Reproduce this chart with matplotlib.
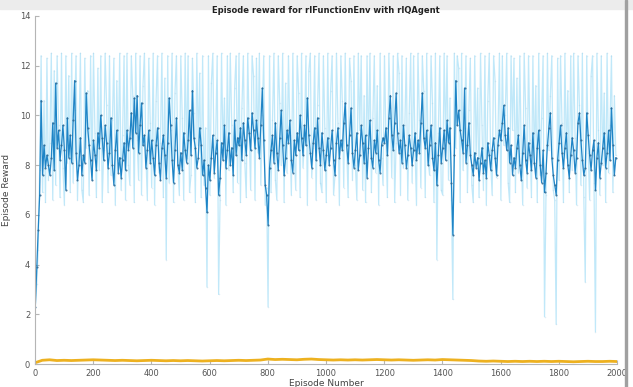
import numpy as np
import matplotlib.pyplot as plt
from matplotlib.patches import Rectangle

# episode reward (every 5th episode)
episode_reward = [
    2.3, 3.2, 4.6, 7.8, 12.4, 6.9, 10.6, 6.5, 12.3, 7.4, 8.9, 12.5, 6.6, 11.8, 7.2, 12.4, 9.6, 6.7, 12.5, 7.9,
    6.4, 12.4, 8.1, 11.6, 6.9, 12.5, 7.3, 10.2, 12.4, 6.6, 9.1, 12.5, 7.0, 6.5, 12.3, 8.7, 11.0, 6.8, 12.4, 7.5,
    12.5, 9.3, 6.7, 11.9, 7.8, 12.4, 6.5, 8.6, 12.5, 10.4, 6.9, 12.4, 7.6, 9.8, 12.3, 6.4, 11.4, 8.2, 12.5, 7.0,
    9.2, 12.4, 6.6, 12.5, 8.0, 7.2, 12.4, 10.8, 6.5, 12.5, 9.0, 7.4, 12.4, 6.8, 11.2, 12.5, 8.4, 6.6, 12.3, 9.7,
    7.1, 12.5, 6.4, 10.6, 12.4, 7.7, 8.9, 12.5, 6.7, 11.5, 4.2, 12.4, 7.3, 9.4, 12.5, 6.5, 10.9, 12.4, 7.9, 6.8,
    12.4, 9.9, 6.6, 12.5, 8.3, 12.4, 6.9, 7.6, 12.3, 10.1, 6.5, 12.5, 8.8, 11.7, 6.7, 12.4, 7.2, 9.5, 3.1, 12.4,
    6.8, 11.3, 12.5, 7.5, 9.1, 12.4, 2.8, 6.6, 12.5, 8.6, 10.7, 6.4, 12.4, 7.8, 12.5, 9.6, 6.9, 11.1, 12.4, 7.3,
    12.5, 6.5, 10.3, 12.4, 8.1, 6.7, 12.5, 9.3, 7.0, 12.4, 11.6, 6.6, 12.3, 8.5, 12.5, 7.2, 10.0, 12.4, 6.4, 7.1,
    2.3, 12.4, 6.9, 9.8, 12.5, 7.4, 6.6, 12.4, 10.5, 8.0, 12.5, 6.5, 11.3, 7.7, 12.4, 9.2, 6.8, 12.5, 8.4, 7.0,
    12.4, 10.9, 6.7, 12.5, 7.9, 9.0, 12.4, 6.4, 11.8, 12.5, 7.5, 8.7, 12.4, 6.6, 10.4, 12.5, 7.3, 6.9, 12.4, 9.5,
    6.5, 12.5, 8.2, 11.0, 12.4, 6.8, 7.6, 12.5, 9.7, 6.4, 12.4, 10.6, 7.1, 12.5, 8.8, 6.7, 12.3, 11.4, 7.4, 12.4,
    8.0, 6.6, 12.5, 9.4, 12.4, 7.0, 10.8, 6.5, 12.4, 8.5, 12.5, 6.9, 9.9, 12.4, 7.7, 11.2, 6.4, 12.5, 8.3, 7.2,
    12.4, 9.1, 6.7, 12.5, 10.3, 7.5, 12.4, 6.5, 8.9, 12.5, 11.7, 6.8, 12.4, 7.9, 9.6, 12.3, 6.6, 10.1, 12.5, 7.3,
    12.4, 8.6, 6.4, 12.5, 9.8, 7.1, 12.4, 11.0, 6.7, 12.5, 8.2, 7.6, 12.4, 10.5, 6.5, 12.5, 4.2, 9.3, 12.4, 7.0,
    6.8, 12.5, 9.0, 12.4, 7.4, 10.7, 6.6, 2.6, 12.5, 8.7, 12.4, 11.9, 6.5, 12.5, 7.8, 9.5, 12.4, 6.9, 10.2, 12.3,
    7.2, 6.5, 12.4, 8.4, 11.1, 6.7, 12.5, 9.6, 7.0, 12.4, 6.4, 10.6, 12.5, 8.1, 6.8, 12.4, 11.4, 7.5, 9.2, 12.5,
    6.6, 12.4, 8.8, 10.0, 12.5, 7.3, 6.5, 12.4, 9.4, 12.3, 6.9, 11.5, 7.7, 12.4, 8.5, 6.4, 12.5, 10.3, 7.1, 12.4,
    9.0, 6.7, 12.4, 8.0, 11.2, 6.5, 12.5, 7.6, 9.9, 12.4, 1.9, 6.8, 12.5, 8.6, 10.8, 12.4, 7.0, 6.6, 1.6, 12.3,
    7.4, 12.4, 9.7, 6.5, 12.5, 8.3, 11.0, 6.9, 12.4, 7.8, 12.5, 9.1, 6.4, 12.4, 10.4, 7.2, 12.5, 6.7, 3.3, 12.4,
    8.5, 6.6, 11.6, 12.4, 7.3, 1.3, 12.5, 9.4, 6.8, 12.4, 8.0, 10.9, 6.5, 12.5, 7.7, 9.6, 12.4, 6.9, 10.8, 8.4,
]

average_reward = [
    2.3, 3.9, 5.4, 6.8, 10.6, 7.6, 8.8, 7.9, 8.4, 8.0, 7.6, 8.3, 9.7, 7.8, 11.3, 8.7, 9.4, 8.2, 8.8, 9.6,
    8.6, 7.0, 9.9, 8.3, 9.2, 8.1, 9.8, 11.4, 8.5, 7.4, 8.0, 9.1, 7.6, 8.4, 8.1, 10.9, 9.5, 8.8, 8.2, 7.4,
    9.0, 8.4, 7.8, 9.3, 8.7, 10.0, 9.1, 8.2, 9.6, 8.9, 7.9, 8.5, 9.9, 8.0, 7.2, 8.6, 9.4, 7.7, 8.3, 7.5,
    8.2, 8.9, 7.8, 9.4, 8.6, 9.1, 10.1, 8.7, 10.7, 9.3, 10.8, 8.5, 9.6, 10.5, 8.8, 9.2, 7.9, 8.6, 9.4, 8.1,
    9.0, 8.3, 7.6, 8.8, 9.5, 8.1, 7.4, 8.7, 9.2, 8.4, 7.5, 8.9, 10.7, 9.6, 8.2, 7.3, 8.6, 9.9, 8.0, 7.7,
    8.5, 7.8, 9.3, 8.6, 8.1, 9.0, 10.2, 8.4, 11.0, 9.1, 8.7, 7.9, 8.3, 9.5, 8.8, 7.6, 8.2, 7.1, 6.1, 8.0,
    7.4, 8.3, 9.2, 7.7, 8.5, 9.0, 6.8, 7.5, 8.9, 8.2, 9.6, 7.9, 8.6, 9.3, 8.0, 8.7, 7.6, 9.8, 8.4, 9.1,
    8.8, 9.5, 8.2, 9.7, 9.0, 8.4, 9.9, 9.3, 8.6, 10.1, 9.4, 8.7, 9.8, 9.1, 8.3, 9.6, 11.1, 9.0, 7.2, 6.8,
    5.6, 7.9, 8.6, 9.2, 8.1, 9.7, 8.5, 7.8, 9.1, 10.2, 8.8, 7.6, 8.3, 9.4, 8.9, 9.8, 8.2, 7.7, 9.0, 8.4,
    9.3, 8.6, 10.0, 9.1, 8.4, 9.6, 8.8, 10.7, 9.2, 8.5, 7.9, 8.9, 9.5, 8.2, 9.9, 8.7, 8.0, 9.3, 8.6, 7.8,
    8.4, 9.1, 8.0, 8.7, 9.4, 8.2, 7.6, 8.9, 9.5, 8.3, 9.0, 8.6, 9.7, 10.5, 8.8, 8.1, 9.2, 10.3, 8.5, 7.9,
    8.6, 9.3, 7.8, 8.4, 9.6, 8.9, 8.1, 9.2, 7.5, 8.7, 9.8, 8.3, 7.9, 9.0, 8.5, 9.4, 8.2, 7.7, 8.8, 9.1,
    8.9, 9.5, 8.4, 9.9, 10.8, 9.2, 8.6, 9.7, 10.9, 9.3, 8.5, 9.0, 8.1, 9.6, 8.8, 7.9, 8.4, 9.2, 8.7, 8.0,
    8.6, 9.3, 8.2, 9.0, 8.5, 9.7, 10.9, 9.1, 8.7, 9.4, 8.0, 8.8, 9.6, 8.3, 7.8, 8.9, 7.2, 8.4, 9.5, 8.1,
    8.7, 9.4, 8.2, 9.8, 8.9, 9.5, 7.3, 5.2, 8.4, 11.4, 9.6, 10.2, 9.4, 9.0, 8.5, 11.1, 8.1, 8.8, 9.7, 8.4,
    8.0, 7.6, 8.5, 7.9, 8.3, 7.4, 8.1, 8.7, 7.7, 8.2, 7.5, 8.9, 8.4, 7.8, 8.6, 9.1, 8.3, 7.6, 8.8, 9.4,
    9.0, 9.7, 10.4, 9.2, 8.6, 9.5, 8.1, 8.8, 7.6, 8.3, 7.9, 8.7, 9.2, 8.0, 7.4, 8.5, 9.6, 8.2, 7.7, 8.9,
    8.4, 7.8, 9.3, 8.1, 7.5, 8.7, 9.4, 8.0, 7.3, 8.6, 6.9, 7.7, 8.8, 9.5, 10.1, 8.3, 7.6, 7.2, 6.8, 8.2,
    8.9, 9.6, 8.5, 7.9, 8.7, 9.3, 8.0, 7.5, 8.4, 9.1, 8.6, 7.7, 8.3, 9.7, 10.1, 9.0, 8.2, 7.6, 7.9, 10.1,
    9.2, 8.4, 7.8, 8.6, 9.0, 7.0, 8.3, 8.9, 7.5, 8.1, 8.7, 9.3, 7.9, 8.5, 9.4, 8.2, 10.3, 8.8, 7.6, 8.3,
]

# episode Q0 (every 25th episode)
episode_q0 = [
    0.05, 0.15, 0.17, 0.14, 0.15, 0.14, 0.15, 0.16, 0.17, 0.16,
    0.15, 0.14, 0.15, 0.14, 0.13, 0.14, 0.15, 0.14, 0.13, 0.14,
    0.13, 0.14, 0.13, 0.12, 0.13, 0.14, 0.13, 0.14, 0.15, 0.14,
    0.15, 0.16, 0.20, 0.18, 0.19, 0.18, 0.17, 0.19, 0.20, 0.18,
    0.17, 0.16, 0.17, 0.16, 0.17, 0.16, 0.17, 0.18, 0.17, 0.16,
    0.17, 0.16, 0.15, 0.16, 0.17, 0.16, 0.18, 0.17, 0.16, 0.15,
    0.14, 0.12, 0.11, 0.12, 0.11, 0.10, 0.11, 0.10, 0.11, 0.10,
    0.11, 0.10, 0.11, 0.10, 0.09, 0.10, 0.11, 0.10, 0.10, 0.11,
    0.10,
]

ep_r = np.arange(1, 2001, 5)
ep_q = np.arange(0, 2001, 25)

fig = plt.figure(figsize=(6.33, 3.87), dpi=100)
fig.patches.append(Rectangle((0, 0.978), 1, 0.022, transform=fig.transFigure,
                             color='#ececec', zorder=0))
fig.patches.append(Rectangle((0.988, 0), 0.0018, 1, transform=fig.transFigure,
                             color='#a0a0a0', zorder=0))

ax = fig.add_axes([0.0553, 0.0594, 0.9194, 0.8993])
ax.plot(ep_r, episode_reward, '-', color='#4DBEEE', lw=0.9, alpha=0.35,
        marker='.', ms=2.2, mfc='#a9cfe3', mec='none')
ax.plot(ep_r, average_reward, '-', color='#0072BD', lw=0.9, alpha=0.85,
        marker='.', ms=3.0, mfc='#2a6590', mec='none')
ax.plot(ep_q, episode_q0, '-', color='#EDB120', lw=2.0)

ax.set_xlim(0, 2000)
ax.set_ylim(0, 14)
ax.set_xticks(range(0, 2001, 200))
ax.set_yticks(range(0, 15, 2))
for s in ['top', 'right']:
    ax.spines[s].set_visible(False)
for s in ['left', 'bottom']:
    ax.spines[s].set_color('#b5b5b5')
ax.tick_params(direction='in', length=3, labelsize=6, colors='#b5b5b5',
               labelcolor='#555555')
ax.set_xlabel('Episode Number', fontsize=6.5, color='#444444', labelpad=1)
ax.set_ylabel('Episode Reward', fontsize=6.5, color='#444444', labelpad=6)

fig.text(0.515, 0.972, 'Episode reward for rlFunctionEnv with rlQAgent',
         ha='center', va='center', fontsize=6, fontweight='bold', color='#222222')

fig.savefig('out.png', dpi=100)
